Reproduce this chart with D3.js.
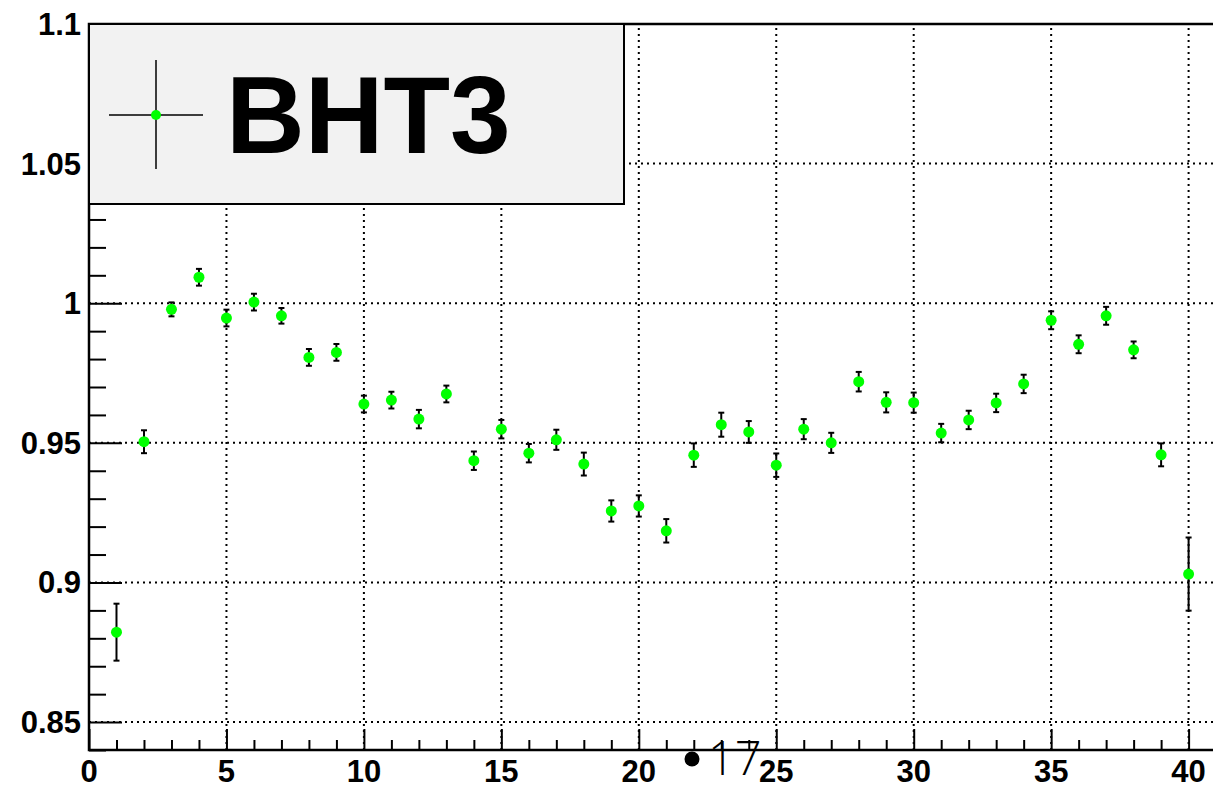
<!DOCTYPE html>
<html>
<head>
<meta charset="utf-8">
<script src="https://cdn.jsdelivr.net/npm/d3@7"></script>
<style>
  html, body { margin: 0; padding: 0; background: #fff; }
  svg { display: block; }
  .lbl { font-family: "Liberation Sans", Arial, sans-serif; font-weight: bold; }
</style>
</head>
<body>
<svg id="canvas" width="1213" height="789"></svg>
<script>
'use strict';

// bin index
const bins = d3.range(1, 41);
// ratio per bin
const values = [
  0.8822, 0.9504, 0.9978, 1.0093, 0.9947, 1.0004, 0.9955, 0.9806, 0.9824, 0.9639,
  0.9653, 0.9585, 0.9675, 0.9436, 0.9549, 0.9463, 0.9511, 0.9424, 0.9256, 0.9274,
  0.9185, 0.9456, 0.9565, 0.9539, 0.9420, 0.9549, 0.9500, 0.9719, 0.9645, 0.9644,
  0.9535, 0.9582, 0.9643, 0.9711, 0.9939, 0.9853, 0.9955, 0.9833, 0.9457, 0.9030
];
// symmetric errors
const errors = [
  0.0102, 0.0041, 0.0025, 0.0030, 0.0030, 0.0030, 0.0028, 0.0030, 0.0030, 0.0030,
  0.0030, 0.0033, 0.0030, 0.0033, 0.0033, 0.0033, 0.0036, 0.0041, 0.0038, 0.0038,
  0.0042, 0.0042, 0.0043, 0.0039, 0.0042, 0.0036, 0.0036, 0.0035, 0.0036, 0.0036,
  0.0033, 0.0033, 0.0033, 0.0033, 0.0032, 0.0032, 0.0032, 0.0030, 0.0041, 0.0131
];
const xTicks = [0, 5, 10, 15, 20, 25, 30, 35, 40];
const yTicks = [0.85, 0.9, 0.95, 1, 1.05, 1.1];
const yTickLabels = ['0.85', '0.9', '0.95', '1', '1.05', '1.1'];
const legendLabel = 'BHT3';
const strayLabel = '17';

const points = bins.map((b, i) => ({ x: b, y: values[i], e: errors[i] }));

const svg = d3.select('#canvas');
const W = 1213, H = 789;
const margin = { left: 89, top: 24, bottom: 39 };

const x = d3.scaleLinear().domain([0, 41]).range([margin.left, margin.left + 41 * 27.49]);
const y = d3.scaleLinear().domain([0.84, 1.1]).range([H - margin.bottom, margin.top]);

const x0 = x(0), yb = y(0.84), yt = y(1.1);

// grid
const grid = svg.append('g').attr('stroke', '#000').attr('stroke-width', 2)
  .attr('stroke-dasharray', '2,4');
grid.selectAll('line.gx').data(xTicks.filter(d => d > 0)).join('line')
  .attr('x1', d => x(d)).attr('x2', d => x(d)).attr('y1', yb).attr('y2', yt);
grid.selectAll('line.gy').data(yTicks.filter(d => d < 1.1)).join('line')
  .attr('x1', x0).attr('x2', W).attr('y1', d => y(d)).attr('y2', d => y(d));

// axes
const xAxis = d3.axisTop(x).tickValues(xTicks).tickSize(21).tickFormat('');
svg.append('g').attr('transform', 'translate(0,' + yb + ')').call(xAxis)
  .call(g => g.select('.domain').remove())
  .selectAll('line').attr('stroke-width', 2);
const xMinor = d3.axisTop(x).tickValues(d3.range(0, 41).filter(d => d % 5)).tickSize(10).tickFormat('');
svg.append('g').attr('transform', 'translate(0,' + yb + ')').call(xMinor)
  .call(g => g.select('.domain').remove())
  .selectAll('line').attr('stroke-width', 2);

const yAxis = d3.axisRight(y).tickValues(yTicks).tickSize(33).tickFormat('');
svg.append('g').attr('transform', 'translate(' + x0 + ',0)').call(yAxis)
  .call(g => g.select('.domain').remove())
  .selectAll('line').attr('stroke-width', 2);
const yMinor = d3.axisRight(y)
  .tickValues(d3.range(84, 110).map(d => d / 100).filter(d => Math.round(d * 100) % 5))
  .tickSize(17).tickFormat('');
svg.append('g').attr('transform', 'translate(' + x0 + ',0)').call(yMinor)
  .call(g => g.select('.domain').remove())
  .selectAll('line').attr('stroke-width', 2);

// frame
svg.append('path')
  .attr('d', 'M' + W + ',' + yt + 'H' + x0 + 'V' + yb + 'H' + W)
  .attr('fill', 'none').attr('stroke', '#000').attr('stroke-width', 2.5);

// tick labels
svg.append('g').selectAll('text').data(xTicks).join('text')
  .attr('class', 'lbl').attr('x', d => x(d)).attr('y', 782)
  .attr('text-anchor', 'middle').attr('font-size', 31).text(d => d);
svg.append('g').selectAll('text').data(yTicks).join('text')
  .attr('class', 'lbl').attr('x', 81).attr('y', d => y(d) + 11)
  .attr('text-anchor', 'end').attr('font-size', 31).text((d, i) => yTickLabels[i]);

// legend box
const leg = svg.append('g');
leg.append('rect').attr('x', x0).attr('y', yt).attr('width', 624 - x0).attr('height', 204 - yt)
  .attr('fill', '#f2f2f2').attr('stroke', '#000').attr('stroke-width', 2);
leg.append('line').attr('x1', 109).attr('x2', 203).attr('y1', 115).attr('y2', 115)
  .attr('stroke', '#000').attr('stroke-width', 1.5);
leg.append('line').attr('x1', 156).attr('x2', 156).attr('y1', 60).attr('y2', 169)
  .attr('stroke', '#000').attr('stroke-width', 1.5);
leg.append('circle').attr('cx', 156).attr('cy', 115).attr('r', 5).attr('fill', '#00ff00');
leg.append('text').attr('class', 'lbl').attr('x', 226).attr('y', 153)
  .attr('font-size', 109).text(legendLabel);

// data
const pts = svg.append('g');
pts.selectAll('line.err').data(points).join('line')
  .attr('x1', d => x(d.x)).attr('x2', d => x(d.x))
  .attr('y1', d => y(d.y - d.e)).attr('y2', d => y(d.y + d.e))
  .attr('stroke', '#000').attr('stroke-width', 2);
pts.selectAll('line.capLo').data(points).join('line')
  .attr('x1', d => x(d.x) - 3).attr('x2', d => x(d.x) + 3)
  .attr('y1', d => y(d.y - d.e)).attr('y2', d => y(d.y - d.e))
  .attr('stroke', '#000').attr('stroke-width', 2);
pts.selectAll('line.capHi').data(points).join('line')
  .attr('x1', d => x(d.x) - 3).attr('x2', d => x(d.x) + 3)
  .attr('y1', d => y(d.y + d.e)).attr('y2', d => y(d.y + d.e))
  .attr('stroke', '#000').attr('stroke-width', 2);
pts.selectAll('circle').data(points).join('circle')
  .attr('cx', d => x(d.x)).attr('cy', d => y(d.y)).attr('r', 5.5)
  .attr('fill', '#00ff00');

// stray marker and label below the axis
svg.append('circle').attr('cx', 692).attr('cy', 759).attr('r', 7.5).attr('fill', '#000');
svg.append('text').attr('x', 708).attr('y', 775)
  .attr('font-family', '"Open Sans", "DejaVu Sans", sans-serif').attr('font-weight', 300)
  .attr('font-size', 47).attr('fill', '#000').text(strayLabel);
</script>
</body>
</html>
